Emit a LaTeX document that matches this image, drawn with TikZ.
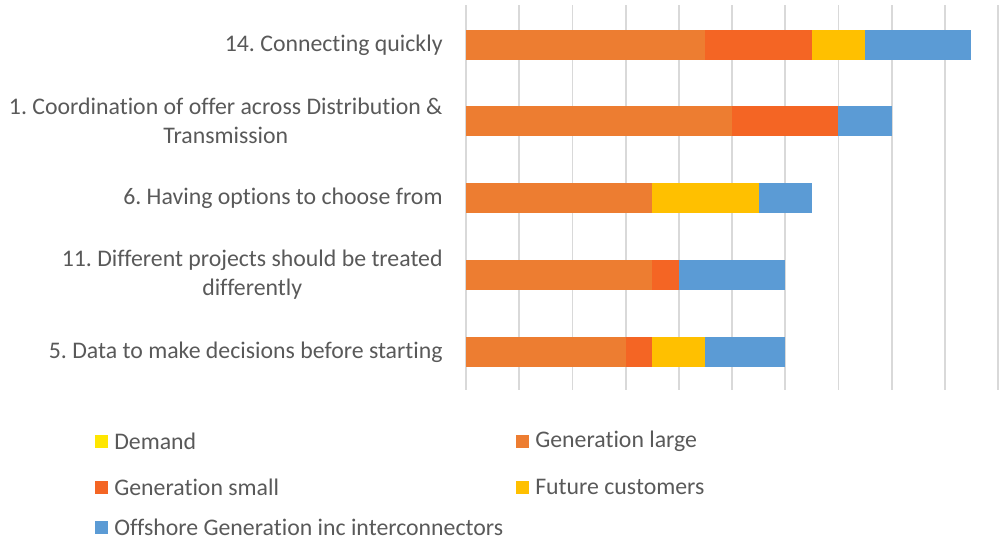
\documentclass[tikz,border=0pt]{standalone}
\usepackage{fontspec}
\setmainfont{Carlito}[Ligatures=NoCommon]
\usetikzlibrary{positioning}
\frenchspacing

\definecolor{txtgray}{HTML}{595959}
\definecolor{gridgray}{HTML}{D9D9D9}
\definecolor{demand}{HTML}{FFE600}
\definecolor{genlarge}{HTML}{ED7D31}
\definecolor{gensmall}{HTML}{F46524}
\definecolor{future}{HTML}{FFC000}
\definecolor{offshore}{HTML}{5B9BD5}

\tikzset{
  gridline/.style={draw=gridgray, line width=0.9pt},
  catlabel/.style={anchor=east, align=center, inner sep=0pt},
  legbox/.style={minimum size=6.5pt, inner sep=0pt},
  legtext/.style={right=3pt of #1, inner sep=0pt}
}

\begin{document}
\begin{tikzpicture}[x=0.5pt, y=-0.5pt, font=\fontsize{11.9}{14.5}\selectfont, text=txtgray]
	\useasboundingbox (0,0) rectangle (1000,541);

	% one unit of the value axis = 53.2px
	\begin{scope}[shift={(466,0)}, x=26.6pt]
		\foreach \k in {0,...,10}
			\draw[gridline] (\k,5) -- (\k,390);

		% 14. Connecting quickly
		\fill[genlarge] (0,30) rectangle (4.5,60);
		\fill[gensmall] (4.5,30) rectangle (6.5,60);
		\fill[future] (6.5,30) rectangle (7.5,60);
		\fill[offshore] (7.5,30) rectangle (9.5,60);
		% 1. Coordination
		\fill[genlarge] (0,106) rectangle (5,136);
		\fill[gensmall] (5,106) rectangle (7,136);
		\fill[offshore] (7,106) rectangle (8,136);
		% 6. Options
		\fill[genlarge] (0,183) rectangle (3.5,213);
		\fill[future] (3.5,183) rectangle (5.5,213);
		\fill[offshore] (5.5,183) rectangle (6.5,213);
		% 11. Different projects
		\fill[genlarge] (0,260) rectangle (3.5,290);
		\fill[gensmall] (3.5,260) rectangle (4,290);
		\fill[offshore] (4,260) rectangle (6,290);
		% 5. Data
		\fill[genlarge] (0,337) rectangle (3,367);
		\fill[gensmall] (3,337) rectangle (3.5,367);
		\fill[future] (3.5,337) rectangle (4.5,367);
		\fill[offshore] (4.5,337) rectangle (6,367);
	\end{scope}

	\node[catlabel] (cat14) at (443,45) {14. Connecting quickly};
	\node[catlabel] (cat1) at (443,121) {1. Coordination of offer across Distribution \&\\Transmission};
	\node[catlabel] (cat6) at (443,198) {6. Having options to choose from};
	\node[catlabel] (cat11) at (443,275) {11. Different projects should be treated\\differently};
	\node[catlabel] (cat5) at (443,352) {5. Data to make decisions before starting};

	% legend
	\node[legbox, fill=demand] (kdem) at (101,441) {};
	\node[legtext=kdem] (tdem) {Demand};
	\node[legbox, fill=genlarge] (kgenl) at (522,441) {};
	\node[legtext=kgenl] (tgenl) {Generation large};
	\node[legbox, fill=gensmall] (kgens) at (101,487) {};
	\node[legtext=kgens] (tgens) {Generation small};
	\node[legbox, fill=future] (kfut) at (522,487) {};
	\node[legtext=kfut] (tfut) {Future customers};
	\node[legbox, fill=offshore] (koff) at (101,527) {};
	\node[legtext=koff] (toff) {Offshore Generation inc interconnectors};
\end{tikzpicture}
\end{document}
